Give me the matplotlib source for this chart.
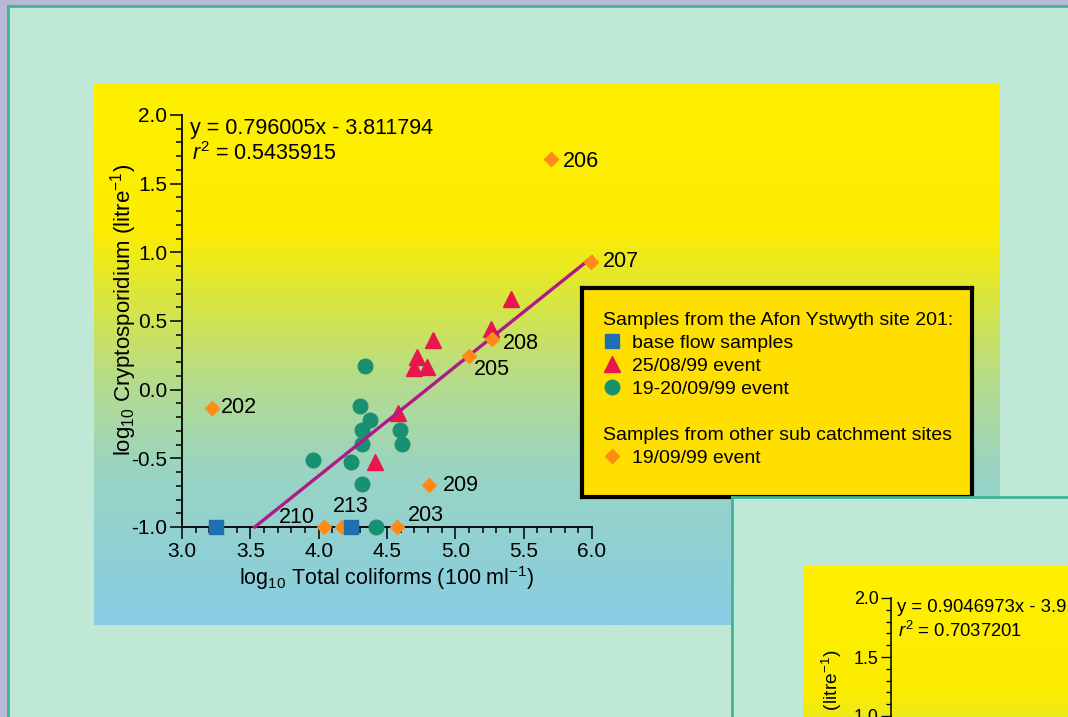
import matplotlib.pyplot as plt
import numpy as np
from matplotlib.colors import LinearSegmentedColormap
from matplotlib.ticker import MultipleLocator

plt.rcParams['font.family'] = ['Liberation Sans', 'DejaVu Sans']
plt.rcParams['mathtext.fontset'] = 'custom'
plt.rcParams['mathtext.rm'] = 'Liberation Sans'
plt.rcParams['mathtext.it'] = 'Liberation Sans:italic'
plt.rcParams['mathtext.bf'] = 'Liberation Sans:bold'
plt.rcParams['axes.unicode_minus'] = False

# site 201 (Afon Ystwyth): base flow samples
base_x = [3.25, 4.24]
base_y = [-1.0, -1.0]
# site 201: 25/08/99 event
aug_x = [5.41, 5.26, 4.84, 4.72, 4.70, 4.79, 4.58, 4.41]
aug_y = [0.66, 0.44, 0.36, 0.24, 0.16, 0.165, -0.17, -0.53]
# site 201: 19-20/09/99 event
sep_x = [4.34, 4.30, 4.375, 4.32, 4.32, 4.595, 4.61, 3.96, 4.235, 4.32, 4.42]
sep_y = [0.17, -0.12, -0.22, -0.295, -0.395, -0.295, -0.395, -0.515, -0.525, -0.69, -1.0]
# other sub catchment sites: 19/09/99 event
site_names = ['202', '203', '205', '206', '207', '208', '209', '210', '213']
site_x = [3.22, 4.575, 5.10, 5.70, 5.99, 5.27, 4.81, 4.04, 4.17]
site_y = [-0.13, -1.0, 0.245, 1.68, 0.93, 0.37, -0.695, -1.0, -1.0]

# regression on all points
slope, intercept, r2 = 0.796005, -3.811794, 0.5435915
# second catchment panel (partly shown)
slope2, r2_2 = 0.9046973, 0.7037201

# label placement: (dx, dy) in points, horizontal alignment
label_pos = {
    '202': (6.5, 0, 'left'), '203': (8, 8.5, 'left'), '205': (3.5, -9.5, 'left'),
    '206': (8.5, -2, 'left'), '207': (8.5, 0, 'left'), '208': (8, -3, 'left'),
    '209': (9.5, 0, 'left'), '210': (-6.5, 7, 'right'), '213': (6.5, 14.5, 'center'),
}

W, H = 1068, 717
MINT = '#c0e8d6'
TEAL = '#3fb393'
BLUE = '#1f6fb3'
RED = '#e8164c'
GREEN = '#1a9073'
ORANGE = '#ff8a16'
LINE = '#b01a88'

grad = LinearSegmentedColormap.from_list('panel', [
    (0.0, '#fff000'), (0.27, '#fcec00'), (0.40, '#d9e640'),
    (0.55, '#b5dc8c'), (0.72, '#99d4c4'), (1.0, '#88cde3')])


def px_box(x0, y0, x1, y1):
    return [x0 / W, 1 - y1 / H, (x1 - x0) / W, (y1 - y0) / H]


def mint_panel(fig, x0, y0, x1, y1, z):
    pa = fig.add_axes(px_box(x0, y0, x1, y1), zorder=z)
    pa.set_facecolor(MINT)
    pa.set_xticks([])
    pa.set_yticks([])
    for s in pa.spines.values():
        s.set_color(TEAL)
        s.set_linewidth(2)
    return pa


def gradient_panel(fig, x0, y0, x1, y1, z):
    ga = fig.add_axes(px_box(x0, y0, x1, y1), zorder=z)
    ga.imshow(np.linspace(0, 1, 256)[:, None], cmap=grad, aspect='auto')
    ga.set_axis_off()
    return ga


def style_axes(a, s=1.0, ylab_xy=(-0.143, 0.527)):
    a.set_facecolor('none')
    a.set_xlim(3.0, 6.0)
    a.set_ylim(-1.0, 2.0)
    a.xaxis.set_major_locator(MultipleLocator(0.5))
    a.yaxis.set_major_locator(MultipleLocator(0.5))
    a.xaxis.set_minor_locator(MultipleLocator(0.1))
    a.yaxis.set_minor_locator(MultipleLocator(0.1))
    a.xaxis.set_major_formatter('{x:.1f}')
    a.yaxis.set_major_formatter('{x:.1f}')
    a.spines['top'].set_visible(False)
    a.spines['right'].set_visible(False)
    for side in ('left', 'bottom'):
        a.spines[side].set_linewidth(1.3 * s)
    a.tick_params(which='major', length=8.5 * s, width=1.1 * s, pad=2 * s,
                  labelsize=15 * s)
    a.tick_params(which='minor', length=4.5 * s, width=1.1 * s)
    a.set_xlabel('log$_{10}$ Total coliforms (100 ml$^{-1}$)', fontsize=15.5 * s, va='center')
    a.set_ylabel('log$_{10}$ Cryptosporidium (litre$^{-1}$)', fontsize=16 * s, va='center')
    a.xaxis.set_label_coords(0.5, -0.124)
    a.yaxis.set_label_coords(*ylab_xy)


fig = plt.figure(figsize=(W / 100, H / 100), dpi=100)
fig.patch.set_facecolor('#b9b9d5')

mint_panel(fig, 8, 6, 1090, 740, 0)
gradient_panel(fig, 94, 83, 1000, 625, 1)

ax = fig.add_axes(px_box(182, 115, 592, 527), zorder=2)
style_axes(ax)

h_sep, = ax.plot(sep_x, sep_y, 'o', color=GREEN, ms=10.5, ls='none', clip_on=False,
                 zorder=3, label='19-20/09/99 event')
h_aug, = ax.plot(aug_x, aug_y, '^', color=RED, ms=12, ls='none', clip_on=False,
                 zorder=3, label='25/08/99 event')

# fitted line from the x-axis (y = -1) to x = 6
fit_x = np.array([(-1.0 - intercept) / slope, 6.0])
ax.plot(fit_x, slope * fit_x + intercept, color=LINE, lw=2.4, zorder=4, clip_on=False)

h_site, = ax.plot(site_x, site_y, 'D', color=ORANGE, ms=7.2, ls='none', clip_on=False,
                  zorder=5, label='19/09/99 event')
h_base, = ax.plot(base_x, base_y, 's', color=BLUE, ms=10, ls='none', clip_on=False,
                  zorder=6, label='base flow samples')

for name, x, y in zip(site_names, site_x, site_y):
    dx, dy, ha = label_pos[name]
    ax.annotate(name, (x, y), xytext=(dx, dy), textcoords='offset points',
                ha=ha, va='center', fontsize=15.5, zorder=7, annotation_clip=False)

ax.text(0.02, 0.968, f'y = {slope:.6f}x - {abs(intercept):.6f}', transform=ax.transAxes,
        fontsize=15.5, va='center')
ax.text(0.024, 0.907, f'$\\it{{r}}^2$ = {r2:.7f}', transform=ax.transAxes,
        fontsize=15.5, va='center')

# legend box
lax = fig.add_axes(px_box(582, 288, 972, 497), zorder=3)
lax.set_facecolor('#ffdf00')
lax.set_xticks([])
lax.set_yticks([])
for s in lax.spines.values():
    s.set_color('black')
    s.set_linewidth(3)

leg_kw = dict(loc='upper left', frameon=False, alignment='left', fontsize=14,
              title_fontsize=14, handlelength=0.9, handletextpad=0.55,
              labelspacing=0.28, borderpad=0, borderaxespad=0)
leg1 = lax.legend(handles=[h_base, h_aug, h_sep], bbox_to_anchor=(0.055, 0.886),
                  title='Samples from the Afon Ystwyth site 201:', **leg_kw)
lax.add_artist(leg1)
lax.legend(handles=[h_site], bbox_to_anchor=(0.055, 0.336),
           title='Samples from other sub catchment sites', **leg_kw)

# second catchment panel
mint_panel(fig, 732, 497, 1090, 740, 4)
gradient_panel(fig, 803, 566, 1582, 1032, 5)
ax2 = fig.add_axes(px_box(891, 598, 1245, 952), zorder=6)
style_axes(ax2, 0.86, ylab_xy=(-0.167, 0.5))
ax2.text(0.017, 0.972, f'y = {slope2:.7f}x - 3.9', transform=ax2.transAxes,
         fontsize=15.5 * 0.86, va='center')
ax2.text(0.02, 0.907, f'$\\it{{r}}^2$ = {r2_2:.7f}', transform=ax2.transAxes,
         fontsize=15.5 * 0.86, va='center')

fig.savefig('out.png', dpi=100, facecolor=fig.get_facecolor())
